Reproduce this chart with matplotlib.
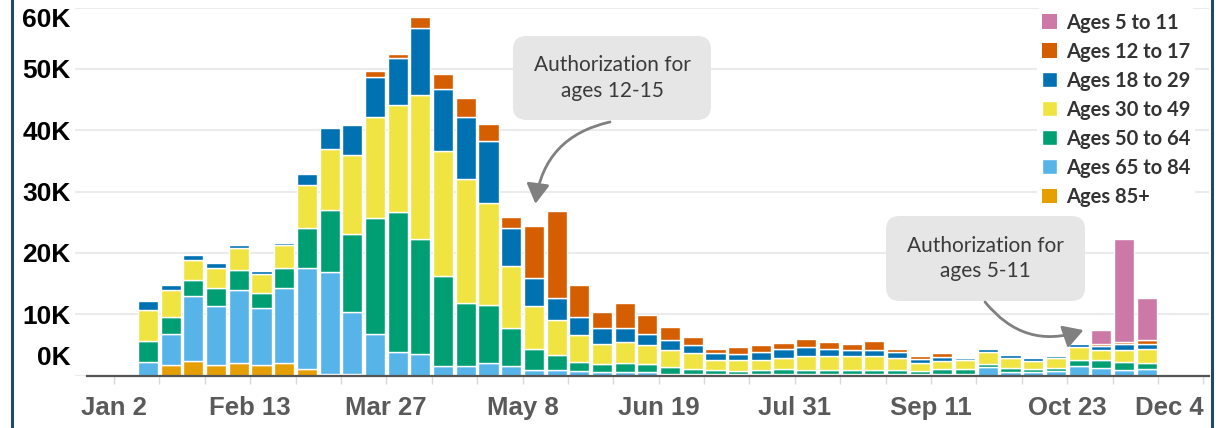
import matplotlib
matplotlib.use('Agg')
import matplotlib.pyplot as plt
import matplotlib.dates as mdates
import matplotlib.transforms as mtransforms
from matplotlib import font_manager as fm
from matplotlib.patches import FancyBboxPatch
from matplotlib.lines import Line2D
import numpy as np
import pandas as pd

# weekly doses, thousands
weeks = pd.date_range('2021-01-09', periods=45, freq='7D')

ages_85 = [0, 1.7, 2.4, 1.7, 2.0, 1.7, 2.0, 1.0, 0.3, 0.3,
           0, 0, 0, 0, 0, 0, 0, 0, 0, 0,
           0, 0, 0, 0, 0, 0, 0, 0, 0, 0,
           0, 0, 0, 0, 0, 0, 0, 0, 0, 0,
           0, 0, 0, 0, 0]
ages_65 = [2.2, 5.1, 10.6, 9.7, 12.0, 9.3, 12.3, 16.5, 16.6, 10.0,
           6.8, 3.8, 3.5, 1.6, 1.6, 2.0, 1.5, 0.9, 0.9, 0.7,
           0.6, 0.6, 0.6, 0.3, 0.3, 0.2, 0.2, 0.3, 0.2, 0.2,
           0.3, 0.3, 0.3, 0.3, 0.2, 0.3, 0.3, 1.4, 0.5, 0.5,
           0.8, 1.5, 1.15, 0.9, 1.0]
ages_50 = [3.4, 2.8, 2.5, 2.8, 3.2, 2.5, 3.2, 6.6, 10.1, 12.8,
           18.8, 22.9, 18.7, 14.6, 10.3, 9.5, 6.2, 3.5, 2.5, 1.5,
           1.2, 1.5, 1.2, 1.1, 0.8, 0.7, 0.55, 0.6, 0.8, 0.7,
           0.6, 0.6, 0.6, 0.6, 0.55, 0.7, 0.8, 0.5, 0.8, 0.5,
           0.5, 1.1, 1.35, 1.3, 1.1]
ages_30 = [5.0, 4.4, 3.4, 3.4, 3.6, 3.1, 3.7, 6.9, 9.9, 12.9,
           16.6, 17.4, 23.6, 20.4, 20.1, 16.6, 10.1, 7.0, 5.7, 4.4,
           3.3, 3.3, 3.1, 2.7, 2.5, 1.6, 1.75, 1.6, 1.8, 2.3,
           2.3, 2.3, 2.3, 1.9, 1.35, 1.4, 1.35, 1.9, 1.6, 1.4,
           1.5, 2.1, 1.6, 2.0, 2.2]
ages_18 = [1.5, 0.7, 0.7, 0.7, 0.4, 0.4, 0.4, 1.8, 3.5, 4.8,
           6.5, 7.6, 10.8, 10.1, 10.1, 10.1, 6.3, 4.5, 3.5, 3.0,
           2.6, 2.3, 1.8, 1.7, 1.3, 1.2, 1.0, 1.4, 1.6, 1.5,
           1.2, 0.9, 0.9, 1.0, 0.6, 0.6, 0.45, 0.5, 0.5, 0.5,
           0.4, 0.5, 0.7, 0.9, 0.8]
ages_12 = [0, 0, 0, 0, 0, 0, 0, 0, 0, 0,
           0.9, 0.8, 1.8, 2.5, 3.2, 2.8, 1.8, 8.4, 14.2, 5.2,
           2.7, 4.1, 3.2, 2.1, 1.4, 0.6, 1.2, 1.1, 0.9, 1.2,
           1.1, 1.1, 1.5, 0.5, 0.5, 0.6, 0.1, 0, 0, 0,
           0, 0, 0.3, 0.4, 0.7]
ages_5 = [0] * 42 + [2.3, 16.8, 6.8]

groups = ['Ages 85+', 'Ages 65 to 84', 'Ages 50 to 64', 'Ages 30 to 49',
          'Ages 18 to 29', 'Ages 12 to 17', 'Ages 5 to 11']
series = [ages_85, ages_65, ages_50, ages_30, ages_18, ages_12, ages_5]
colors = ['#E69F00', '#56B4E9', '#009E73', '#F0E442', '#0072B2', '#D55E00', '#CC79A7']

y_ticks = [0, 10, 20, 30, 40, 50, 60]
y_labels = ['0K', '10K', '20K', '30K', '40K', '50K', '60K']
x_ticks = pd.date_range('2021-01-02', '2021-12-04', freq='14D')
x_labels = ['Jan 2', '', '', 'Feb 13', '', '', 'Mar 27', '', '', 'May 8', '', '',
            'Jun 19', '', '', 'Jul 31', '', '', 'Sep 11', '', '', 'Oct 23', '', '', 'Dec 4']

# narrow font for legend / notes: use what is installed
installed = {f.name for f in fm.fontManager.ttflist}
if 'Liberation Sans Narrow' in installed:
    narrow, leg_size, note_size = 'Liberation Sans Narrow', 15.5, 17
else:
    narrow, leg_size, note_size = 'Lato', 14.5, 15

W, H = 1222, 428
fig = plt.figure(figsize=(W / 100, H / 100), dpi=100)
ax = fig.add_axes([75 / W, 52.5 / H, 1134 / W, 368 / H])

centers = weeks + pd.Timedelta(hours=84)
bottom = np.zeros(len(weeks))
for name, vals, c in zip(groups, series, colors):
    vals = np.array(vals, dtype=float)
    ax.bar(centers, vals, width=6.2, bottom=bottom, color=c,
           edgecolor='white', linewidth=np.where(vals > 0, 1.0, 0.0), label=name)
    bottom += vals

x0 = pd.Timestamp('2021-01-02')
ax.set_xlim(x0 - pd.Timedelta(days=12), x0 + pd.Timedelta(days=337.7))
ax.set_ylim(0, 60)

ax.set_axisbelow(True)
ax.grid(axis='y', color='#ebebeb', linewidth=1.5)
for s in ['left', 'right', 'top']:
    ax.spines[s].set_visible(False)
ax.spines['bottom'].set_color('#555555')
ax.spines['bottom'].set_linewidth(1.6)
ax.spines['bottom'].set_bounds(mdates.date2num(x0 - pd.Timedelta(days=8.3)),
                               mdates.date2num(x0 + pd.Timedelta(days=337.7)))

ax.set_yticks(y_ticks)
ax.set_yticklabels(y_labels, fontfamily='Liberation Sans', fontweight='bold')
ax.tick_params(axis='y', length=0, pad=3, labelsize=19, labelcolor='black')

ax.set_xticks(x_ticks)
ax.set_xticklabels(x_labels, fontfamily='Liberation Sans', fontweight='bold')
ax.tick_params(axis='x', length=6, width=1, color='#d9d9d9', pad=9,
               labelsize=18.5, labelcolor='#5a5a5a')
ax.get_xticklabels()[-1].set_horizontalalignment('right')

# odd label offsets of the original
yt = ax.yaxis.get_major_ticks()
yt[0].label1.set_transform(yt[0].label1.get_transform() +
                           mtransforms.ScaledTranslation(0, 20 / 100, fig.dpi_scale_trans))
yt[-1].label1.set_transform(yt[-1].label1.get_transform() +
                            mtransforms.ScaledTranslation(0, -10 / 100, fig.dpi_scale_trans))

h, l = ax.get_legend_handles_labels()
leg = ax.legend(h[::-1], l[::-1], loc='upper left', bbox_to_anchor=(0.848, 1.0),
                frameon=True, facecolor='white', edgecolor='none', framealpha=1,
                prop={'family': narrow, 'weight': 'bold', 'size': leg_size},
                handlelength=0.75, handleheight=0.75, handletextpad=0.45,
                labelspacing=0.45, borderpad=0.25, borderaxespad=0)
for t in leg.get_texts():
    t.set_color('#333333')

# annotation boxes
aspect = 1134 / 368
for (bx, by, bw, bh), txt in [((0.3862, 0.6943, 0.1746, 0.2283), 'Authorization for\nages 12-15'),
                              ((0.7152, 0.2024, 0.1755, 0.2310), 'Authorization for\nages 5-11')]:
    ax.add_patch(FancyBboxPatch((bx, by), bw, bh, boxstyle='round,pad=0,rounding_size=0.012',
                                mutation_aspect=aspect, transform=ax.transAxes,
                                facecolor='#e6e6e6', edgecolor='none', zorder=5, clip_on=False))
    ax.text(bx + bw / 2, by + bh / 2, txt, transform=ax.transAxes, ha='center', va='center',
            fontsize=note_size, family=narrow, color='#3a3a3a', linespacing=1.35, zorder=6)

arrow = dict(arrowstyle='-|>,head_length=0.6,head_width=0.35', color='#808080', lw=2,
             mutation_scale=20, shrinkA=0, shrinkB=0)
ax.annotate('', xy=(mdates.date2num(pd.Timestamp('2021-05-12')), 28.0), xycoords='data',
            xytext=(0.4718, 0.689), textcoords='axes fraction',
            arrowprops=dict(arrow, connectionstyle='arc3,rad=0.35'), zorder=6)
ax.annotate('', xy=(mdates.date2num(pd.Timestamp('2021-10-28')), 7.4), xycoords='data',
            xytext=(0.8025, 0.1997), textcoords='axes fraction',
            arrowprops=dict(arrow, connectionstyle='arc3,rad=0.35'), zorder=6)

# dark side frame
for xf in [12 / W, 1212 / W]:
    fig.add_artist(Line2D([xf, xf], [0, 1], transform=fig.transFigure, color='#1f4a6a', lw=2.2))

fig.savefig('out.png', dpi=100)
